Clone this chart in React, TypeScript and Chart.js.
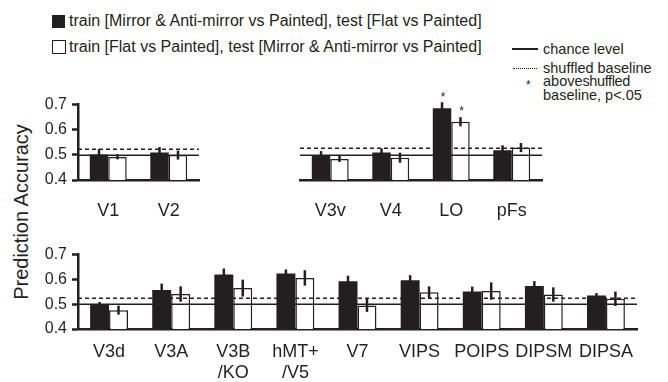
import React, { useEffect, useRef } from "react";
import { Chart, registerables } from "chart.js";

Chart.register(...registerables);

const INK = "#231f20";
const FONT = "'Liberation Sans', Arial, Helvetica, sans-serif";

// ---- data ----
const chanceLevel = 0.5;
const shuffledBaseline = 0.525;
const yTicks = [0.4, 0.5, 0.6, 0.7];

const earlyLabels = ["V1", "V2"];
const earlyBlack = [0.501, 0.509];
const earlyBlackErr = [0.022, 0.022];
const earlyWhite = [0.492, 0.499];
const earlyWhiteErr = [0.01, 0.018];
const earlyBlackSig = [false, false];
const earlyWhiteSig = [false, false];

const ventralLabels = ["V3v", "V4", "LO", "pFs"];
const ventralBlack = [0.496, 0.509, 0.683, 0.517];
const ventralBlackErr = [0.018, 0.016, 0.024, 0.02];
const ventralWhite = [0.483, 0.488, 0.63, 0.528];
const ventralWhiteErr = [0.012, 0.02, 0.018, 0.018];
const ventralBlackSig = [false, false, true, false];
const ventralWhiteSig = [false, false, true, false];

const dorsalLabels = ["V3d", "V3A", ["V3B", "/KO"], ["hMT+", "/V5"], "V7", "VIPS", "POIPS", "DIPSM", "DIPSA"];
const dorsalBlack = [0.499, 0.557, 0.62, 0.624, 0.593, 0.597, 0.551, 0.573, 0.535];
const dorsalBlackErr = [0.01, 0.026, 0.024, 0.016, 0.022, 0.02, 0.02, 0.02, 0.01];
const dorsalWhite = [0.476, 0.541, 0.565, 0.606, 0.495, 0.548, 0.553, 0.539, 0.522];
const dorsalWhiteErr = [0.018, 0.031, 0.034, 0.031, 0.026, 0.024, 0.035, 0.029, 0.029];
const dorsalBlackSig = [false, false, false, false, false, false, false, false, false];
const dorsalWhiteSig = [false, false, false, false, false, false, false, false, false];

const legendBlack = "train [Mirror & Anti-mirror vs Painted], test [Flat vs Painted]";
const legendWhite = "train [Flat vs Painted], test [Mirror & Anti-mirror vs Painted]";

const overlayPlugin = {
  id: "overlay",
  afterDatasetsDraw(chart: any) {
    const { ctx, chartArea } = chart;
    const y = chart.scales.y;
    ctx.save();
    ctx.strokeStyle = INK;
    ctx.lineWidth = 1.5;
    let py = Math.round(y.getPixelForValue(chanceLevel)) + 0.25;
    ctx.beginPath();
    ctx.moveTo(chartArea.left, py);
    ctx.lineTo(chartArea.right, py);
    ctx.stroke();
    ctx.setLineDash([4, 3]);
    py = Math.round(y.getPixelForValue(shuffledBaseline)) + 0.25;
    ctx.beginPath();
    ctx.moveTo(chartArea.left, py);
    ctx.lineTo(chartArea.right, py);
    ctx.stroke();
    ctx.setLineDash([]);
    chart.data.datasets.forEach((ds: any, i: number) => {
      const meta = chart.getDatasetMeta(i);
      meta.data.forEach((bar: any, j: number) => {
        const v = ds.data[j];
        const e = ds.errors[j];
        const top = y.getPixelForValue(v + e);
        ctx.lineWidth = 2.5;
        ctx.beginPath();
        ctx.moveTo(bar.x, top);
        ctx.lineTo(bar.x, y.getPixelForValue(v - e));
        ctx.stroke();
        if (ds.sig[j]) {
          ctx.fillStyle = INK;
          ctx.font = `12px ${FONT}`;
          ctx.textAlign = "center";
          ctx.textBaseline = "bottom";
          ctx.fillText("*", bar.x + 1, top + 1);
        }
      });
    });
    ctx.restore();
  },
};

type PanelProps = {
  left: number;
  top: number;
  width: number;
  height: number;
  labels: any[];
  black: number[];
  blackErr: number[];
  blackSig: boolean[];
  white: number[];
  whiteErr: number[];
  whiteSig: boolean[];
  showY: boolean;
  padTop: number;
  padLeft: number;
  padRight: number;
  xHeight: number;
  xPad: number;
};

function Panel(p: PanelProps) {
  const ref = useRef<HTMLCanvasElement | null>(null);
  useEffect(() => {
    if (!ref.current) return;
    const chart = new Chart(ref.current, {
      type: "bar",
      data: {
        labels: p.labels,
        datasets: [
          {
            data: p.black,
            errors: p.blackErr,
            sig: p.blackSig,
            backgroundColor: INK,
            borderColor: INK,
            borderWidth: 0,
          } as any,
          {
            data: p.white,
            errors: p.whiteErr,
            sig: p.whiteSig,
            backgroundColor: "#ffffff",
            borderColor: INK,
            borderWidth: 1.5,
          } as any,
        ],
      },
      options: {
        animation: false,
        responsive: false,
        maintainAspectRatio: false,
        layout: { padding: { top: p.padTop, left: p.padLeft, right: p.padRight, bottom: 0 } },
        datasets: { bar: { barPercentage: 1, categoryPercentage: 0.61 } },
        plugins: { legend: { display: false }, tooltip: { enabled: false } },
        scales: {
          x: {
            grid: { display: false, drawTicks: false },
            border: { display: true, color: INK, width: 2.5 },
            ticks: { color: INK, font: { family: FONT, size: 18 }, padding: p.xPad, maxRotation: 0, autoSkip: false },
            afterFit: (s: any) => {
              s.height = p.xHeight;
            },
          },
          y: {
            display: p.showY,
            min: 0.4,
            max: 0.7,
            afterBuildTicks: (s: any) => {
              s.ticks = yTicks.map((v) => ({ value: v }));
            },
            grid: { drawOnChartArea: false, drawTicks: true, tickLength: 6, tickWidth: 2.5, tickColor: INK },
            border: { display: true, color: INK, width: 2.5 },
            ticks: {
              color: INK,
              font: { family: FONT, size: 16 },
              padding: 5,
              callback: (v: any) => Number(v).toFixed(1),
            },
            afterFit: (s: any) => {
              s.width = p.showY ? 78 : 0;
            },
          },
        },
      },
      plugins: [overlayPlugin],
    } as any);
    return () => chart.destroy();
  }, []);
  return (
    <canvas
      ref={ref}
      width={p.width}
      height={p.height}
      style={{ position: "absolute", left: p.left, top: p.top, width: p.width, height: p.height }}
    />
  );
}

// place text by its baseline (line-height = font size)
const textAt = (left: number, baseline: number, size: number): React.CSSProperties => ({
  position: "absolute",
  left,
  top: baseline - 0.8465 * size,
  fontSize: size,
  lineHeight: `${size}px`,
  fontFamily: FONT,
  color: INK,
  whiteSpace: "nowrap",
});

export default function App() {
  return (
    <div style={{ position: "absolute", left: 0, top: 0, width: 668, height: 382, background: "#fff", overflow: "hidden" }}>
      {/* left legend */}
      <div style={{ position: "absolute", left: 52, top: 15, width: 13, height: 13, background: INK }} />
      <div style={textAt(69, 27, 16)}>{legendBlack}</div>
      <div style={{ position: "absolute", left: 52, top: 40, width: 11.5, height: 11.5, border: `1.2px solid ${INK}` }} />
      <div style={textAt(69, 52.5, 16)}>{legendWhite}</div>

      {/* right legend */}
      <div style={{ position: "absolute", left: 512, top: 48, width: 26, height: 1.5, background: INK }} />
      <div style={textAt(543, 54, 14.5)}>chance level</div>
      <div style={{ position: "absolute", left: 513, top: 68, width: 24, height: 0, borderTop: `1.2px dotted ${INK}` }} />
      <div style={textAt(543, 73.3, 14.5)}>shuffled baseline</div>
      <div style={textAt(526, 89, 12)}>*</div>
      <div style={textAt(543, 86.7, 14.5)}>
        above<span style={{ letterSpacing: -0.4 }}>shuffled</span>
      </div>
      <div style={textAt(543, 100.3, 14.5)}>baseline, p&lt;.05</div>

      {/* y title */}
      <div
        style={{
          position: "absolute",
          left: 21 - 100,
          top: 211.5 - 10,
          width: 200,
          height: 20,
          fontSize: 20,
          lineHeight: "20px",
          fontFamily: FONT,
          color: INK,
          textAlign: "center",
          transform: "rotate(-90deg)",
          whiteSpace: "nowrap",
        }}
      >
        Prediction Accuracy
      </div>

      <Panel
        left={0}
        top={90}
        width={210}
        height={140}
        labels={earlyLabels}
        black={earlyBlack}
        blackErr={earlyBlackErr}
        blackSig={earlyBlackSig}
        white={earlyWhite}
        whiteErr={earlyWhiteErr}
        whiteSig={earlyWhiteSig}
        showY={true}
        padTop={14}
        padLeft={0}
        padRight={11}
        xHeight={50}
        xPad={20}
      />
      <Panel
        left={290}
        top={90}
        width={260}
        height={140}
        labels={ventralLabels}
        black={ventralBlack}
        blackErr={ventralBlackErr}
        blackSig={ventralBlackSig}
        white={ventralWhite}
        whiteErr={ventralWhiteErr}
        whiteSig={ventralWhiteSig}
        showY={false}
        padTop={14}
        padLeft={10}
        padRight={8}
        xHeight={50}
        xPad={20}
      />
      <Panel
        left={0}
        top={240}
        width={668}
        height={142}
        labels={dorsalLabels}
        black={dorsalBlack}
        blackErr={dorsalBlackErr}
        blackSig={dorsalBlackSig}
        white={dorsalWhite}
        whiteErr={dorsalWhiteErr}
        whiteSig={dorsalWhiteSig}
        showY={true}
        padTop={12}
        padLeft={0}
        padRight={31}
        xHeight={53}
        xPad={12}
      />
    </div>
  );
}
